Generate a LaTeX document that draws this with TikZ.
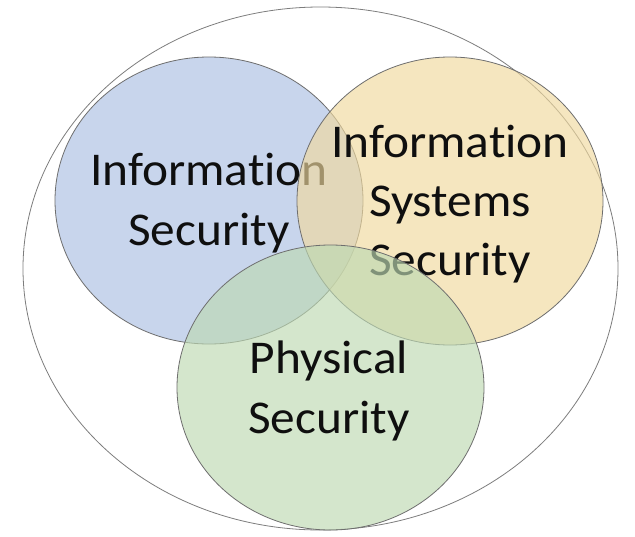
\documentclass[tikz,border=0pt]{standalone}
\usepackage{fontspec}
\setmainfont{Carlito}[Ligatures=NoCommon]
\definecolor{bluefill}{RGB}{200,213,236}
\definecolor{yellowfill}{RGB}{240,217,158}
\definecolor{greenfill}{RGB}{189,217,178}
\definecolor{edgegray}{RGB}{110,110,110}
\definecolor{outergray}{RGB}{125,125,125}
\definecolor{txt}{RGB}{15,15,15}
\begin{document}
\begin{tikzpicture}[x=1pt,y=-1pt,
  setshape/.style={draw=edgegray, line width=0.8pt},
  lbl/.style={anchor=base, inner sep=0pt, text=txt, font=\fontsize{47}{56}\selectfont}]
\useasboundingbox (0,0) rectangle (635,536);
% outer ellipse
\draw[draw=outergray, line width=0.8pt, fill=white] (320.5,268.5) ellipse [x radius=297.5, y radius=261.5];
% blue set
\draw[setshape, fill=bluefill] (209,200.5) ellipse [x radius=154, y radius=143.5];
\node[lbl] (bl1) at (209,185) {\scalebox{1.05}[1]{Information}};
\node[lbl] (bl2) at (209,245) {\scalebox{1.05}[1]{Security}};
% yellow set
\draw[setshape, fill=yellowfill, fill opacity=0.65] (450,201) ellipse [x radius=153, y radius=144];
\node[lbl] (yl1) at (450,157) {\scalebox{1.05}[1]{Information}};
\node[lbl] (yl2) at (450,216) {\scalebox{1.05}[1]{Systems}};
\node[lbl] (yl3) at (450,275) {\scalebox{1.05}[1]{Security}};
% green set
\draw[setshape, fill=greenfill, fill opacity=0.65] (330.5,387.5) ellipse [x radius=153.5, y radius=142.5];
\node[lbl] (gl1) at (329,373) {\scalebox{1.05}[1]{Physical}};
\node[lbl] (gl2) at (329,433) {\scalebox{1.05}[1]{Security}};
\end{tikzpicture}
\end{document}
